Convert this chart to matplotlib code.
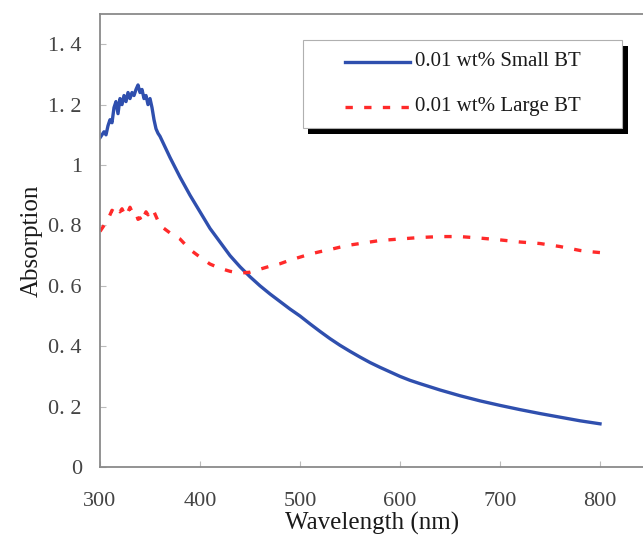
import matplotlib
matplotlib.use('Agg')
import matplotlib.pyplot as plt
from matplotlib.patches import Rectangle
from matplotlib.lines import Line2D

plt.rcParams['font.family'] = ['Liberation Serif', 'DejaVu Serif']

# 0.01 wt% Small BT (blue, solid)
small_x = [300, 302, 304, 306, 308, 310, 312, 314, 316, 318, 320, 322, 324, 326, 328,
           330, 332, 334, 336, 338, 340, 342, 344, 346, 348, 350, 352, 354, 356, 358,
           360, 370, 380, 390, 400, 410, 420, 430, 440, 450, 460, 470, 480, 490,
           500, 510, 520, 530, 540, 550, 560, 570, 580, 590, 600, 610, 620, 640, 660,
           680, 700, 720, 740, 760, 780, 800]
small_y = [1.09, 1.10, 1.11, 1.10, 1.13, 1.15, 1.14, 1.19, 1.21, 1.17, 1.22, 1.20, 1.23, 1.21, 1.24,
           1.22, 1.24, 1.23, 1.25, 1.265, 1.24, 1.25, 1.22, 1.23, 1.20, 1.22, 1.19, 1.15, 1.12, 1.105,
           1.095, 1.025, 0.96, 0.90, 0.845, 0.79, 0.745, 0.70, 0.663, 0.63, 0.60, 0.573, 0.548, 0.523,
           0.50, 0.474, 0.449, 0.425, 0.403, 0.383, 0.364, 0.346, 0.33, 0.315, 0.30, 0.287, 0.276, 0.255, 0.236,
           0.219, 0.204, 0.19, 0.177, 0.165, 0.153, 0.143]

# 0.01 wt% Large BT (red, dashed)
large_x = [300, 302, 304, 306, 308, 310, 312, 314, 316, 318, 320, 322, 324, 326, 328,
           330, 332, 334, 336, 338, 340, 342, 344, 346, 348, 350, 352, 354, 356, 358,
           360, 364, 370, 380, 390, 400, 410, 420, 430, 440, 450, 460, 470, 480, 490,
           500, 510, 520, 530, 540, 550, 560, 580, 600, 620, 640, 660, 680, 700, 720,
           740, 760, 780, 790, 800]
large_y = [0.78, 0.79, 0.80, 0.81, 0.82, 0.835, 0.85, 0.845, 0.86, 0.85, 0.845, 0.855, 0.84, 0.83, 0.845,
           0.86, 0.845, 0.835, 0.84, 0.82, 0.825, 0.81, 0.83, 0.845, 0.835, 0.85, 0.84, 0.845, 0.83, 0.815,
           0.80, 0.79, 0.775, 0.755, 0.72, 0.695, 0.672, 0.658, 0.648, 0.642, 0.645, 0.655, 0.665, 0.673, 0.685,
           0.695, 0.705, 0.713, 0.72, 0.728, 0.735, 0.74, 0.75, 0.755, 0.76, 0.763, 0.763, 0.758, 0.752, 0.745,
           0.74, 0.73, 0.717, 0.713, 0.71]

labels = ['0.01 wt% Small BT', '0.01 wt% Large BT']
x_ticks = [300, 400, 500, 600, 700, 800]
y_ticks = [0, 0.2, 0.4, 0.6, 0.8, 1.0, 1.2, 1.4]
y_ticklabels = ['0', '0. 2', '0. 4', '0. 6', '0. 8', '1', '1. 2', '1. 4']

W, H = 643, 538
fig = plt.figure(figsize=(W / 100, H / 100), dpi=100)
ax = fig.add_axes([100 / W, (H - 467) / H, 545 / W, 453 / H])

blue = '#2f4fae'
red = '#ff2a2a'
ax.plot(small_x, small_y, color=blue, lw=2.4, solid_joinstyle='round')
ax.plot(large_x, large_y, color=red, lw=2.4, linestyle=(0, (2.2, 3.4)))

ax.set_xlim(300, 845)
ax.set_ylim(0, 1.5)
ax.set_xticks(x_ticks)
ax.set_yticks(y_ticks)
ax.set_yticklabels(y_ticklabels)

for side in ['left', 'bottom', 'top', 'right']:
    ax.spines[side].set_color('#8a8a8a')
    ax.spines[side].set_linewidth(1.3)
ax.tick_params(direction='in', length=4, width=0.8, color='#bbbbbb',
               labelsize=16, labelcolor='#444444')
ax.tick_params(axis='y', pad=13)
ax.tick_params(axis='x', pad=18)

ax.set_xlabel('Wavelength (nm)', fontsize=18, color='#1a1a1a', labelpad=1)
ax.set_ylabel('Absorption', fontsize=18, color='#1a1a1a', labelpad=4)


# legend box with black drop shadow (drawn in figure pixels)
def fx(px):
    return px / W


def fy(py):
    return 1 - py / H


fig.add_artist(Rectangle((fx(308), fy(134)), fx(628) - fx(308), fy(46) - fy(134),
                         transform=fig.transFigure, facecolor='black', edgecolor='none', zorder=5))
fig.add_artist(Rectangle((fx(303), fy(128)), fx(622) - fx(303), fy(40) - fy(128),
                         transform=fig.transFigure, facecolor='white', edgecolor='#b0b0b0',
                         lw=0.8, zorder=6))
fig.add_artist(Line2D([fx(345), fx(410)], [fy(62), fy(62)], transform=fig.transFigure,
                      color=blue, lw=2.4, zorder=7))
fig.add_artist(Line2D([fx(345), fx(410)], [fy(107), fy(107)], transform=fig.transFigure,
                      color=red, lw=2.4, linestyle=(0, (2.2, 3.4)), zorder=7))
fig.text(fx(415), fy(62), labels[0], fontsize=15, color='#1a1a1a', va='center', ha='left', zorder=8)
fig.text(fx(415), fy(107), labels[1], fontsize=15, color='#1a1a1a', va='center', ha='left', zorder=8)

fig.savefig('out.png', dpi=100)
